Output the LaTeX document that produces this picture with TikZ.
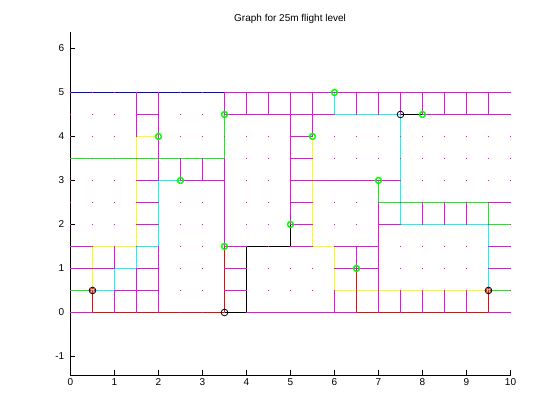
\documentclass[tikz,border=0pt]{standalone}
\usepackage{fontspec}
\setmainfont{Liberation Sans}
\usetikzlibrary{positioning}

\definecolor{mgt}{RGB}{255,0,255}
\definecolor{grn}{RGB}{0,255,0}
\definecolor{cyn}{RGB}{0,255,255}
\definecolor{ylw}{RGB}{255,255,0}
\definecolor{blu}{RGB}{0,0,255}
\definecolor{rd}{RGB}{255,0,0}

\tikzset{
  cellline/.style={mgt},
  ticklabel/.style={font=\fontsize{7.5}{9}\selectfont, inner sep=1pt},
  waypt/.style={grn, line width=1.1pt},
  endpt/.style={black, line width=0.6pt}
}

\begin{document}
\begin{tikzpicture}[x=33pt,y=33pt,line width=0.75pt]

  \useasboundingbox (-1.60227,-2.44318) rectangle (11.125,7.10227);

  % Axes
  \draw[black] (0,6.3636) -- (0,-1.43182) -- (10,-1.43182);
  \foreach \i in {0,...,10} {
    \draw[black] (\i,-1.43182) -- ++(0,0.1136);
    \node[ticklabel, anchor=north] (xl\i) at (\i,-1.47) {\i};
  }
  \foreach \j in {-1,...,6} {
    \draw[black] (0,\j) -- ++(0.1136,0);
    \node[ticklabel, anchor=east] (yl\j) at (-0.1,\j) {\j};
  }

  % Title
  \node[ticklabel] (title) at (4.99,6.67) {Graph for 25m flight level};

  % Cell boundaries
  \draw[cellline] (3.5,5) -- (10,5)
    (1.5,4.5) -- (2,4.5) (3.5,4.5) -- (6,4.5) (8,4.5) -- (10,4.5)
    (5,4) -- (5.5,4) (5,3.5) -- (5.5,3.5)
    (1.5,3) -- (2,3) (2.5,3) -- (3.5,3) (5,3) -- (7.5,3)
    (1.5,2.5) -- (2,2.5) (5,2.5) -- (5.5,2.5) (9.5,2.5) -- (10,2.5)
    (1.5,2) -- (2,2) (5,2) -- (5.5,2) (7,2) -- (7.5,2)
    (0,1.5) -- (0.5,1.5) (3.5,1.5) -- (4,1.5) (5,1.5) -- (5.5,1.5)
    (6,1.5) -- (7,1.5) (9.5,1.5) -- (10,1.5)
    (0,1) -- (1,1) (1.5,1) -- (2,1) (3.5,1) -- (4,1) (6,1) -- (7,1) (9.5,1) -- (10,1)
    (1,0.5) -- (2,0.5) (3.5,0.5) -- (4,0.5)
    (0,0) -- (0.5,0) (4,0) -- (6.5,0) (9.5,0) -- (10,0);
  \draw[cellline] (1,1) -- (1,1.5) (1,0) -- (1,0.5)
    (1.5,4) -- (1.5,5) (1.5,0) -- (1.5,1)
    (2,3) -- (2,5) (2,0) -- (2,1.5)
    (2.5,3) -- (2.5,3.5) (3,3) -- (3,3.5)
    (3.5,4.5) -- (3.5,5) (3.5,1.5) -- (3.5,3.5)
    (4,4.5) -- (4,5) (4.5,4.5) -- (4.5,5)
    (5,2) -- (5,5) (5.5,4) -- (5.5,5)
    (6,0) -- (6,0.5)
    (6.5,4.5) -- (6.5,5) (6.5,1) -- (6.5,1.5)
    (7,4.5) -- (7,5) (7,0) -- (7,2.5);
  \foreach \x in {7.5,8,8.5,9,9.5}
    \draw[cellline] (\x,4.5) -- (\x,5);
  \foreach \x in {8,8.5,9}
    \draw[cellline] (\x,2) -- (\x,2.5);
  \foreach \x in {7.5,8,8.5,9}
    \draw[cellline] (\x,0) -- (\x,0.5);

  % Routes
  \draw[blu] (0,5) -- (3.5,5);
  \draw[grn] (0,3.5) -- (3.5,3.5) -- (3.5,4.5);
  \draw[grn] (0,0.5) -- (0.5,0.5);
  \draw[grn] (7,3) -- (7,2.5) -- (9.5,2.5) -- (9.5,2) -- (10,2);
  \draw[grn] (9.5,0.5) -- (10,0.5);
  \draw[ylw] (2,4) -- (1.5,4) -- (1.5,1.5) -- (0.5,1.5) -- (0.5,0.5);
  \draw[ylw] (5.5,4) -- (5.5,1.5) -- (6,1.5) -- (6,0.5) -- (9.5,0.5);
  \draw[cyn] (2.5,3) -- (2,3) -- (2,1.5) -- (1.5,1.5) -- (1.5,1) -- (1,1) -- (1,0.5) -- (0.5,0.5);
  \draw[cyn] (6,5) -- (6,4.5) -- (7.5,4.5) -- (7.5,2) -- (9.5,2) -- (9.5,0.5);
  \draw[rd] (0.5,0.5) -- (0.5,0) -- (3.5,0) -- (3.5,1.5);
  \draw[rd] (6.5,1) -- (6.5,0) -- (9.5,0) -- (9.5,0.5);
  \draw[black] (3.5,0) -- (4,0) -- (4,1.5) -- (5,1.5) -- (5,2);
  \draw[black] (7.5,4.5) -- (8,4.5);

  % Grid points
  \foreach \x in {0,0.5,...,10}
    \foreach \y in {0,0.5,...,5}
      \fill[mgt] (\x,\y) circle (0.55pt);

  % Waypoints
  \foreach \p in {(2,4),(3.5,4.5),(2.5,3),(6,5),(5.5,4),(7,3),(8,4.5),(5,2),(3.5,1.5),(6.5,1)}
    \draw[waypt] \p circle (2.2pt);
  \foreach \p in {(3.5,0),(7.5,4.5),(0.5,0.5),(9.5,0.5)}
    \draw[endpt] \p circle (2.5pt);
  \foreach \p in {(0.5,0.5),(9.5,0.5)}
    \draw[rd, line width=0.5pt] \p circle (1.6pt);

\end{tikzpicture}
\end{document}
